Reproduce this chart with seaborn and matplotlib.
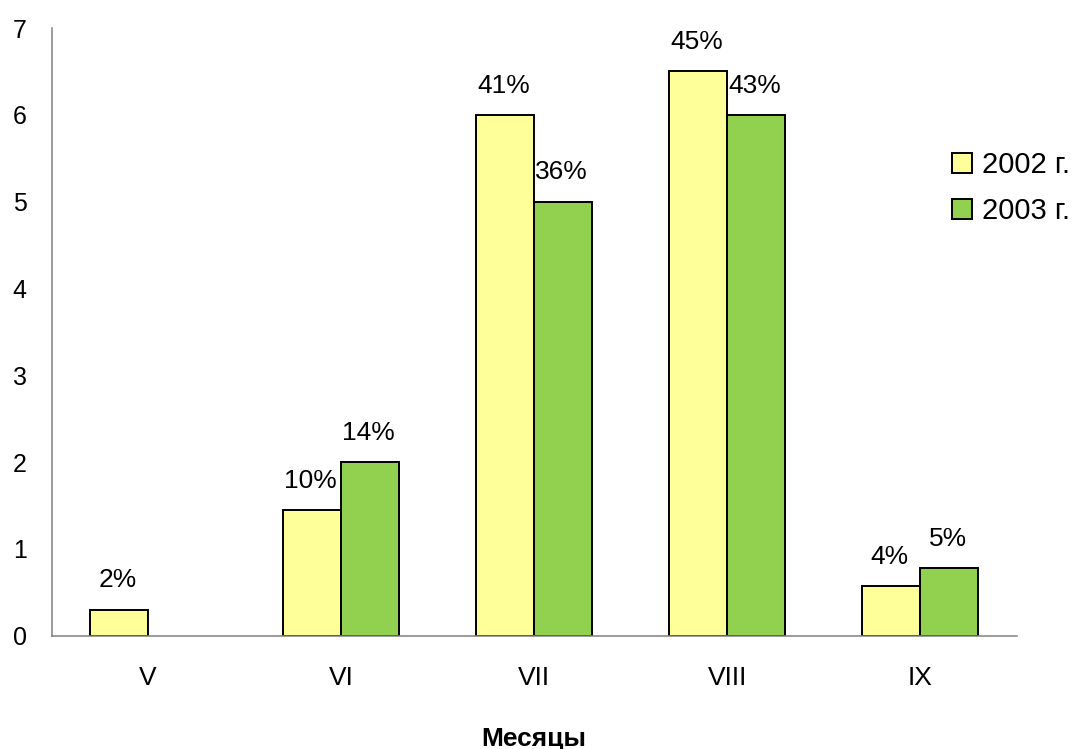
import numpy as np
import pandas as pd
import seaborn as sns
import matplotlib.pyplot as plt

months = ['V', 'VI', 'VII', 'VIII', 'IX']
years = ['2002 г.', '2003 г.']
vals_2002 = [0.3, 1.45, 6.0, 6.5, 0.57]
vals_2003 = [None, 2.0, 5.0, 6.0, 0.78]
pct_2002 = ['2%', '10%', '41%', '45%', '4%']
pct_2003 = [None, '14%', '36%', '43%', '5%']

rows = []
for m, v, p in zip(months, vals_2002, pct_2002):
    rows.append((m, years[0], v, p))
for m, v, p in zip(months, vals_2003, pct_2003):
    if v is not None:
        rows.append((m, years[1], v, p))
df = pd.DataFrame(rows, columns=['month', 'year', 'value', 'pct'])

sns.set_style('white')
plt.rcParams['font.family'] = ['Liberation Sans', 'DejaVu Sans']
plt.rcParams['text.color'] = 'black'
plt.rcParams['axes.labelcolor'] = 'black'
plt.rcParams['xtick.labelcolor'] = 'black'
plt.rcParams['ytick.labelcolor'] = 'black'

fig = plt.figure(figsize=(10.75, 7.49), dpi=100)
ax = fig.add_axes([51.7/1075, 1 - 635.7/749, 965/1075, (635.7 - 28)/749])

sns.barplot(data=df, x='month', y='value', hue='year', order=months, hue_order=years,
            palette=['#FFFF99', '#92D050'], saturation=1, width=0.6, gap=0,
            edgecolor='black', linewidth=1.4, ax=ax)

# percent labels above bars (bar width 0.3 per year)
offsets = {years[0]: -0.15, years[1]: 0.15}
for _, r in df.iterrows():
    xpos = months.index(r['month']) + offsets[r['year']]
    ax.annotate(r['pct'], (xpos, r['value']), xytext=(-1, 16), textcoords='offset points',
                ha='center', va='baseline', fontsize=19)

ax.set_xlim(-0.5, 4.5)
ax.set_ylim(0, 7)
ax.set_yticks(range(8))
ax.set_xticks(range(5))
ax.set_xticks(np.arange(-0.5, 5, 1), minor=True)
ax.tick_params(axis='x', which='major', length=0, pad=22, labelsize=19)
ax.tick_params(axis='x', which='minor', length=7, width=1.1, color='#808080', direction='out')
ax.tick_params(axis='y', length=7, width=1.1, color='#808080', direction='out', pad=11, labelsize=18)
ax.set_ylabel('')
ax.set_xlabel('')
fig.text(534/1075, 3/749, 'Месяцы', ha='center', va='baseline', fontsize=19, fontweight='bold')

for s in ['top', 'right']:
    ax.spines[s].set_visible(False)
for s in ['left', 'bottom']:
    ax.spines[s].set_color('#808080')
    ax.spines[s].set_linewidth(1.1)

ax.legend(loc='upper left', bbox_to_anchor=(952/1075, 1 - 151/749),
          bbox_transform=fig.transFigure, frameon=False, fontsize=21,
          handlelength=0.68, handleheight=0.68, handletextpad=0.36,
          labelspacing=0.62, borderpad=0, borderaxespad=0)

fig.savefig('out.png', dpi=100)
